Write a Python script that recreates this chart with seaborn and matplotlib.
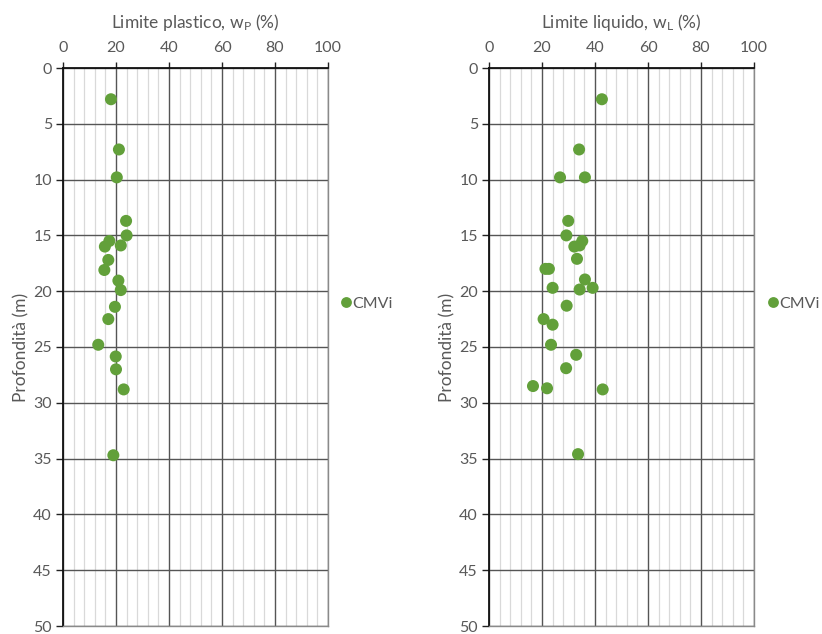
import matplotlib
matplotlib.use("Agg")
import matplotlib.pyplot as plt
from matplotlib.ticker import MultipleLocator
import seaborn as sns
import pandas as pd

# Data: left panel (plastic limit)
wp_values = [18.1, 21.1, 20.3, 23.8, 24.0, 17.5, 21.8, 15.8, 17.1, 15.6,
             20.9, 21.8, 19.6, 17.1, 13.3, 19.9, 20.0, 22.9, 19.0]
wp_depths = [2.8, 7.3, 9.8, 13.7, 15.0, 15.5, 15.9, 16.0, 17.2, 18.1,
             19.05, 19.9, 21.4, 22.5, 24.8, 25.85, 27.0, 28.8, 34.7]

# Data: right panel (liquid limit)
wl_values = [42.6, 34.0, 26.8, 36.2, 29.9, 29.2, 35.2, 34.2, 32.2, 33.2,
             21.3, 22.6, 36.2, 39.1, 34.2, 24.0, 29.3, 20.6, 24.0, 23.4,
             32.9, 29.1, 16.6, 21.9, 42.9, 33.6]
wl_depths = [2.8, 7.3, 9.8, 9.8, 13.7, 15.0, 15.5, 15.9, 16.0, 17.1,
             18.0, 18.0, 18.95, 19.7, 19.85, 19.7, 21.3, 22.5, 23.0, 24.8,
             25.7, 26.9, 28.5, 28.7, 28.8, 34.6]

series_name = "CMVi"
x_ticks = [0, 20, 40, 60, 80, 100]
y_ticks = [0, 5, 10, 15, 20, 25, 30, 35, 40, 45, 50]
titles = ["Limite plastico, w$_\\mathregular{P}$ (%)", "Limite liquido, w$_\\mathregular{L}$ (%)"]
y_label = "Profondità (m)"

sns.set_theme(style="white")
plt.rcParams['font.family'] = ['Lato', 'DejaVu Sans']
plt.rcParams['mathtext.fontset'] = 'custom'
plt.rcParams['mathtext.rm'] = 'Lato'
plt.rcParams['mathtext.it'] = 'Lato'

text_color = '#595959'
green = '#62a03a'

fig = plt.figure(figsize=(8.22, 6.34), dpi=100)
ax_left = fig.add_axes([63/822, 1-626/634, 265/822, 558/634])
ax_right = fig.add_axes([489/822, 1-626/634, 265/822, 558/634])

legend_x = [1.045, 1.05]
panels = [(ax_left, wp_values, wp_depths), (ax_right, wl_values, wl_depths)]
for i, (ax, xs, ys) in enumerate(panels):
    df = pd.DataFrame({"x": xs, "y": ys, "serie": [series_name]*len(xs)})
    sns.scatterplot(data=df, x="x", y="y", hue="serie", palette=[green],
                    s=75, edgecolor='none', ax=ax, zorder=5, clip_on=False)
    ax.set_xlim(0, 100)
    ax.set_ylim(50, 0)
    ax.xaxis.set_major_locator(MultipleLocator(20))
    ax.xaxis.set_minor_locator(MultipleLocator(4))
    ax.set_xticks(x_ticks)
    ax.set_yticks(y_ticks)
    ax.xaxis.tick_top()
    ax.xaxis.set_label_position('top')
    ax.set_xlabel(titles[i], color=text_color, fontsize=12.5, labelpad=10)
    ax.set_ylabel(y_label, color=text_color, fontsize=12.5, labelpad=3)
    ax.grid(which='major', axis='both', color='#555555', linewidth=1.0)
    ax.grid(which='minor', axis='x', color='#d9d9d9', linewidth=0.9)
    ax.set_axisbelow(True)
    ax.tick_params(axis='x', which='major', direction='out', length=4, width=1,
                   color='#222222', labelcolor=text_color, labelsize=11.5, pad=5,
                   top=True, bottom=False)
    ax.tick_params(axis='x', which='minor', length=0)
    ax.tick_params(axis='y', which='major', direction='out', length=5, width=1,
                   color='#222222', labelcolor=text_color, labelsize=11.5, pad=3, left=True)
    for side in ['top', 'left']:
        ax.spines[side].set_color('#111111')
        ax.spines[side].set_linewidth(1.3)
    for side in ['right', 'bottom']:
        ax.spines[side].set_color('#8a8a8a')
        ax.spines[side].set_linewidth(1.0)
    leg = ax.legend(loc='center left', bbox_to_anchor=(legend_x[i], 0.578), frameon=False,
                    handletextpad=0.05, handlelength=0.7, fontsize=11.5, markerscale=0.9,
                    borderaxespad=0, borderpad=0)
    for t in leg.get_texts():
        t.set_color(text_color)

fig.savefig("out.png", dpi=100)
